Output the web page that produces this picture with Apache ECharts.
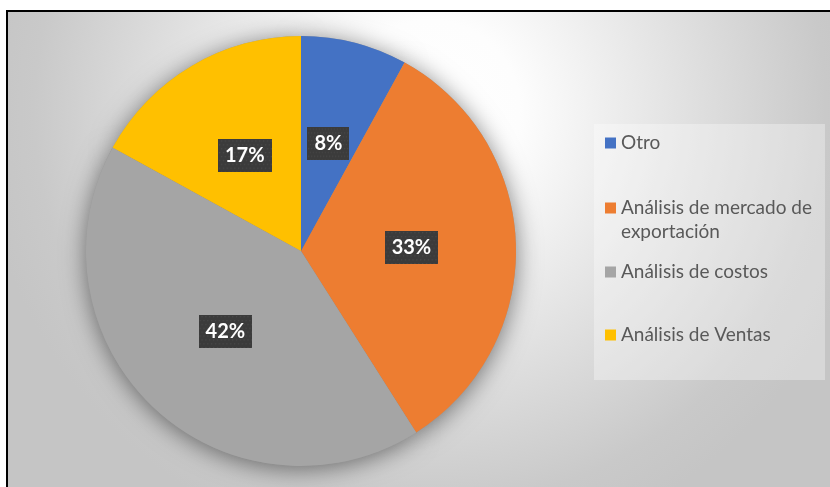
<!DOCTYPE html>
<html>
<head>
<meta charset="utf-8">
<script src="https://cdn.jsdelivr.net/npm/echarts@6/dist/echarts.min.js"></script>
<style>
  html, body { margin: 0; padding: 0; background: #ffffff; }
  #chart { width: 830px; height: 487px; }
</style>
</head>
<body>
<div id="chart"></div>
<script>
// Areas analysed (share of responses, %)
const categories = ['Otro', 'Análisis de mercado de exportación', 'Análisis de costos', 'Análisis de Ventas'];
const values = [8, 33, 42, 17];
const colors = ['#4472C4', '#ED7D31', '#A5A5A5', '#FFC000'];

// Legend row tops (the wrapped name carries a blank leading line so its marker sits on line one)
const legendTops = [131, 172, 260, 323];
const wrapped = {
  'Análisis de mercado de exportación': '\nAnálisis de mercado de\nexportación'
};

// Small dotted texture for the percentage tags
function tagTexture() {
  const c = document.createElement('canvas');
  c.width = 56; c.height = 34;
  const g = c.getContext('2d');
  g.fillStyle = '#3b3b3b';
  g.fillRect(0, 0, c.width, c.height);
  g.fillStyle = '#494949';
  for (let y = 1, row = 0; y < c.height; y += 4, row++) {
    for (let x = row % 2 ? 1 : 3; x < c.width; x += 4) {
      g.fillRect(x, y, 1.4, 1.4);
    }
  }
  return c;
}
const texture = tagTexture();

const pieData = categories.map((name, i) => ({ name, value: values[i], itemStyle: { color: colors[i] } }));
const shadowData = categories.map((name, i) => ({ name, value: values[i] }));

const LINE = 24;
const legends = categories.map((name, i) => ({
  data: [name],
  orient: 'vertical',
  left: 605,
  top: legendTops[i],
  padding: 0,
  icon: 'rect',
  itemWidth: 11,
  itemHeight: 11,
  selectedMode: false,
  formatter: n => wrapped[n] || n,
  textStyle: {
    color: '#595959',
    fontSize: 19,
    fontFamily: 'Lato',
    lineHeight: LINE
  }
}));

const chart = echarts.init(document.getElementById('chart'), null, { renderer: 'canvas' });
chart.setOption({
  backgroundColor: '#ffffff',
  animation: false,
  graphic: [
    {
      type: 'rect',
      z: -10,
      silent: true,
      shape: { x: 7, y: 11, width: 860, height: 500 },
      style: {
        fill: {
          type: 'radial', x: 430, y: 110, r: 450, global: true,
          colorStops: [
            { offset: 0, color: '#ffffff' },
            { offset: 0.2, color: '#fdfdfd' },
            { offset: 0.88, color: '#c9c9c9' },
            { offset: 1, color: '#c5c5c5' }
          ]
        },
        stroke: '#000000',
        lineWidth: 2
      }
    },
    {
      type: 'rect',
      z: 3,
      silent: true,
      shape: { x: 594, y: 124, width: 231, height: 256 },
      style: { fill: 'rgba(255,255,255,0.32)' }
    }
  ],
  legend: legends,
  series: [
    {
      name: 'Áreas',
      type: 'pie',
      z: 3,
      center: [301, 251],
      radius: 215,
      startAngle: 90,
      clockwise: true,
      data: pieData,
      emphasis: { disabled: true },
      label: {
        show: true,
        position: 'inside',
        formatter: p => Math.round(p.value) + '%',
        color: '#ffffff',
        fontFamily: 'Lato',
        fontWeight: 'bold',
        fontSize: 20,
        lineHeight: 20,
        padding: [7, 7, 6, 7],
        backgroundColor: { image: texture },
        shadowColor: 'rgba(0,0,0,0.55)',
        shadowBlur: 6,
        shadowOffsetX: 3,
        shadowOffsetY: 3
      },
      labelLine: { show: false }
    },
    {
      // soft drop shadow under the pie
      type: 'pie',
      z: 1,
      silent: true,
      legendHoverLink: false,
      center: [301, 251],
      radius: 215,
      startAngle: 90,
      data: shadowData,
      label: { show: false },
      labelLine: { show: false },
      emphasis: { disabled: true },
      itemStyle: {
        color: '#9a9a9a',
        shadowBlur: 24,
        shadowColor: 'rgba(0,0,0,0.5)',
        shadowOffsetY: 3
      }
    }
  ]
});
</script>
</body>
</html>
